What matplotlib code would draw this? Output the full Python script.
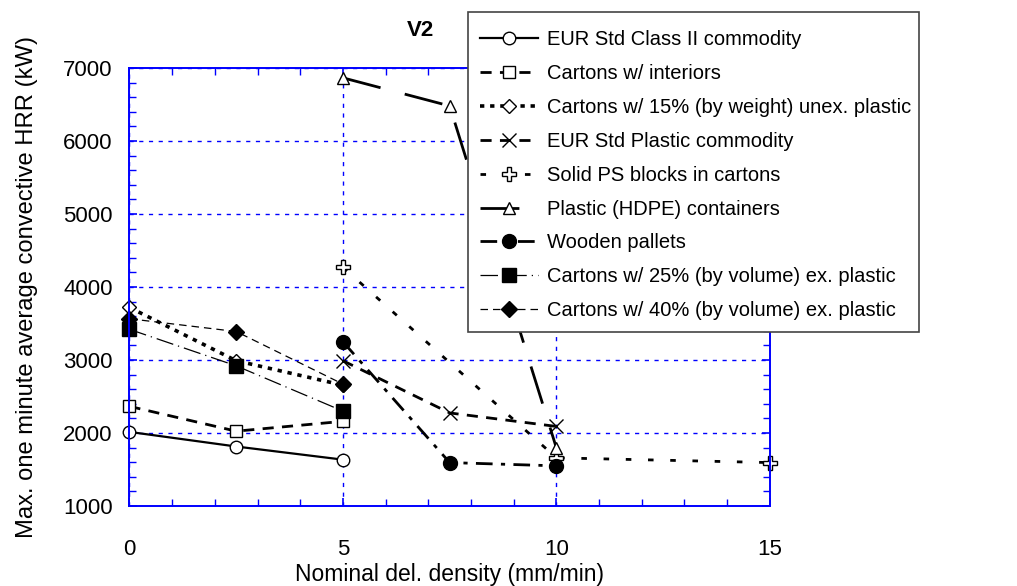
import numpy as np
import matplotlib.pyplot as plt
from matplotlib.patches import Rectangle
from matplotlib.ticker import MultipleLocator

plt.rcParams['font.family'] = ['Liberation Sans', 'DejaVu Sans']

# nominal delivered density (mm/min) and max 1-min convective HRR (kW)
class2_x = [0, 2.5, 5]
class2_y = [2015, 1815, 1635]

interiors_x = [0, 2.5, 5]
interiors_y = [2365, 2025, 2160]

unex15_x = [0, 2.5, 5]
unex15_y = [3720, 2990, 2655]

plastic_x = [5, 7.5, 10]
plastic_y = [2990, 2275, 2090]

ps_x = [5, 10, 15]
ps_y = [4270, 1660, 1595]

hdpe_x = [5, 7.5, 10]
hdpe_y = [6865, 6480, 1795]

pallet_x = [5, 7.5, 10]
pallet_y = [3250, 1595, 1550]

ex25_x = [0, 2.5, 5]
ex25_y = [3420, 2920, 2300]

ex40_x = [0, 2.5, 5]
ex40_y = [3565, 3390, 2670]

W, H = 1017, 586
fig = plt.figure(figsize=(W / 100, H / 100), dpi=100)
ax = fig.add_axes([0.1273, 0.1365, 0.6297, 0.7475])

open_mk = dict(markerfacecolor='white', markeredgecolor='black', markeredgewidth=1.0,
               clip_on=False)
fill_mk = dict(markerfacecolor='black', markeredgecolor='black', clip_on=False)

ax.plot(class2_x, class2_y, color='black', lw=1.6, ls='-', marker='o', ms=9,
        label='EUR Std Class II commodity', **open_mk)
ax.plot(interiors_x, interiors_y, color='black', lw=2, ls=(0, (4, 3)), marker='s', ms=9,
        label='Cartons w/ interiors', **open_mk)
ax.plot(unex15_x, unex15_y, color='black', lw=2.6, ls=(0, (1.2, 1.6)), marker='D', ms=7,
        label='Cartons w/ 15% (by weight) unex. plastic', **open_mk)
ax.plot(plastic_x, plastic_y, color='black', lw=2, ls=(0, (4, 3)), marker='x', ms=10,
        label='EUR Std Plastic commodity', markeredgewidth=1.0, clip_on=False)
ax.plot(ps_x, ps_y, color='black', lw=2, ls=(0, (2, 6)), marker='P', ms=10,
        label='Solid PS blocks in cartons', **open_mk)
ax.plot(hdpe_x, hdpe_y, color='black', lw=2, ls=(0, (14, 9)), marker='^', ms=9,
        label='Plastic (HDPE) containers', **open_mk)
ax.plot(pallet_x, pallet_y, color='black', lw=2, ls=(0, (6, 3, 1.5, 3)), marker='o', ms=10,
        label='Wooden pallets', **fill_mk)
ax.plot(ex25_x, ex25_y, color='black', lw=0.9, ls=(0, (14, 4, 1, 4)), marker='s', ms=10,
        label='Cartons w/ 25% (by volume) ex. plastic', **fill_mk)
ax.plot(ex40_x, ex40_y, color='black', lw=0.9, ls=(0, (6, 4)), marker='D', ms=8,
        label='Cartons w/ 40% (by volume) ex. plastic', **fill_mk)

ax.set_xlim(0, 15)
ax.set_ylim(1000, 7000)
ax.xaxis.set_major_locator(MultipleLocator(5))
ax.xaxis.set_minor_locator(MultipleLocator(1))
ax.yaxis.set_major_locator(MultipleLocator(1000))
ax.yaxis.set_minor_locator(MultipleLocator(200))

# blue frame, inward ticks on all four sides
for s in ax.spines.values():
    s.set_color('blue')
    s.set_linewidth(1.4)
ax.tick_params(which='both', direction='in', top=True, right=True, color='blue',
               labelsize=16, labelcolor='black')
ax.tick_params(which='major', length=6, width=1.2)
ax.tick_params(which='minor', length=5, width=1.0)
ax.tick_params(axis='x', which='major', pad=24)
ax.tick_params(axis='y', which='major', pad=12)
ax.grid(True, which='major', color='blue', ls=(0, (3, 4)), lw=1.0)
ax.set_axisbelow(True)

ax.set_xlabel('Nominal del. density (mm/min)', fontsize=16.5, labelpad=2)
ax.set_ylabel('Max. one minute average convective HRR (kW)', fontsize=17.1, labelpad=18)
fig.text(420 / W, 1 - 30 / H, 'V2', fontsize=16, fontweight='bold',
         ha='center', va='center')

# legend box drawn separately so its padding can differ from the entries' spacing
box = Rectangle((468 / W, 1 - 332 / H), (919 - 468) / W, (332 - 12) / H,
                transform=fig.transFigure, facecolor='white', edgecolor='#444444',
                lw=1.2, zorder=4)
fig.patches.append(box)
leg = fig.legend(loc='upper left', bbox_to_anchor=(471 / W, 1 - 21 / H),
                 fontsize=14.5, frameon=False, handlelength=2.9, handletextpad=0.4,
                 labelspacing=0.74, borderpad=0.45, borderaxespad=0)
leg.set_zorder(5)

fig.savefig('out.png', dpi=100)
